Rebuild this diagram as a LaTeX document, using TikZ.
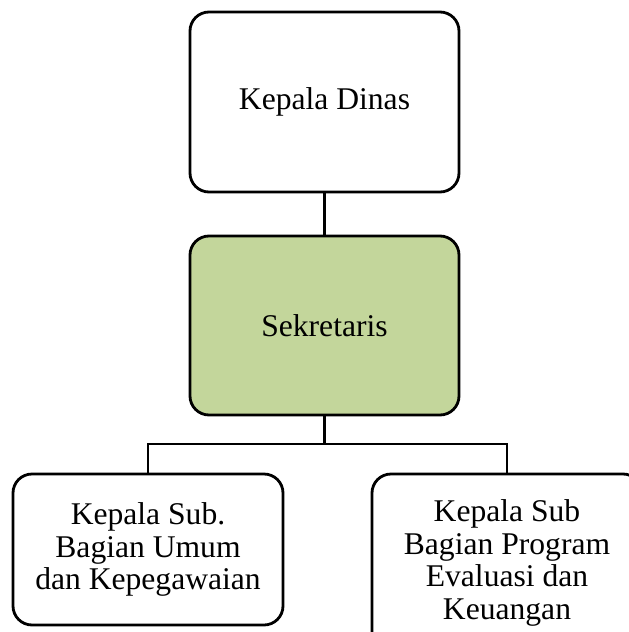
\documentclass[tikz,border=0pt]{standalone}
\usepackage{fontspec}
\setmainfont{Liberation Serif}
\definecolor{secgreen}{RGB}{195,214,155}
\tikzset{
  unit/.style={draw=black, line width=2.8pt, rounded corners=19pt, inner sep=0pt,
    align=center, font=\fontsize{31.6}{32.5}\selectfont, fill=white},
  link/.style={draw=black, line width=2.4pt},
}
\begin{document}
\begin{tikzpicture}[x=1pt, y=-1pt]
  \clip (0,0) rectangle (629,632);
  \fill[white] (0,0) rectangle (629,632);

  \node[unit, minimum width=269pt, minimum height=180pt] (head) at (324.5,102) {Kepala Dinas};
  \node[unit, fill=secgreen, minimum width=269pt, minimum height=179pt] (sec) at (324.5,325.5) {Sekretaris};
  \node[unit, minimum width=270pt, minimum height=151pt] (umum) at (148,549.5)
    {Kepala Sub.\\Bagian Umum\\dan Kepegawaian};
  \node[unit, minimum width=270pt, minimum height=178pt] (prog) at (507,563)
    {Kepala Sub\\Bagian Program\\Evaluasi dan\\Keuangan};

  \coordinate (bus) at (324.5,444);
  \draw[link] (head.south) -- (sec.north);
  \draw[link] (sec.south) -- (bus);
  \draw[link] (umum.north) -- (umum.north |- bus) -- (prog.north |- bus) -- (prog.north);
\end{tikzpicture}
\end{document}
